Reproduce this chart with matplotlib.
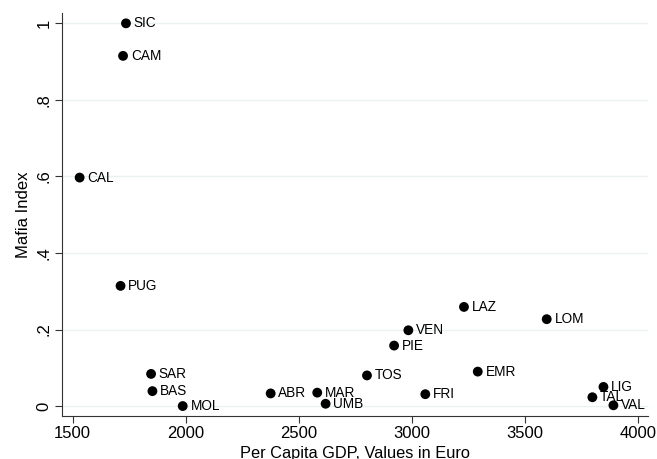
import matplotlib
matplotlib.use("Agg")
import matplotlib.pyplot as plt

# Regional data: per capita GDP (euro) and mafia index
regions = ["SIC", "CAM", "CAL", "PUG", "SAR", "BAS", "MOL", "ABR", "MAR", "UMB",
           "TOS", "PIE", "VEN", "FRI", "LAZ", "LOM", "EMR", "LIG", "TAL", "VAL"]
gdp = [1736, 1723, 1531, 1712, 1847, 1853, 1987, 2376, 2582, 2619,
       2802, 2922, 2985, 3060, 3231, 3597, 3292, 3848, 3799, 3892]
mafia = [1.000, 0.915, 0.597, 0.314, 0.084, 0.039, 0.000, 0.033, 0.035, 0.006,
         0.080, 0.158, 0.198, 0.031, 0.259, 0.227, 0.090, 0.050, 0.023, 0.002]

x_ticks = [1500, 2000, 2500, 3000, 3500, 4000]
y_ticks = [0, 0.2, 0.4, 0.6, 0.8, 1.0]
y_tick_labels = ["0", ".2", ".4", ".6", ".8", "1"]

plt.rcParams["font.family"] = ["Liberation Sans", "DejaVu Sans"]

fig = plt.figure(figsize=(6.57, 4.59), dpi=100)
ax = fig.add_axes([62 / 657, 43 / 459, 586 / 657, 403 / 459])

ax.set_xlim(1453, 4045)
ax.set_ylim(-0.026, 1.027)

for yv in y_ticks:
    ax.axhline(yv, color="#eaf2f3", lw=1.0, zorder=0)

ax.scatter(gdp, mafia, s=50, color="black", edgecolors="none", zorder=3)
for name, xv, yv in zip(regions, gdp, mafia):
    ax.annotate(name, (xv, yv), xytext=(5.6, 0), textcoords="offset points",
                ha="left", va="center", fontsize=9.8, color="black", zorder=4)

ax.set_xticks(x_ticks)
ax.set_yticks(y_ticks)
ax.set_yticklabels(y_tick_labels, rotation=90, va="center")
ax.tick_params(axis="both", length=5, width=0.8, color="#333333",
               labelsize=12, pad=2.5)

for side in ("top", "right"):
    ax.spines[side].set_visible(False)
for side in ("left", "bottom"):
    ax.spines[side].set_color("#333333")
    ax.spines[side].set_linewidth(0.8)

ax.set_xlabel("Per Capita GDP, Values in Euro", fontsize=11.8, labelpad=3)
ax.set_ylabel("Mafia Index", fontsize=12, labelpad=4)

fig.savefig("out.png", dpi=100, facecolor="white")
